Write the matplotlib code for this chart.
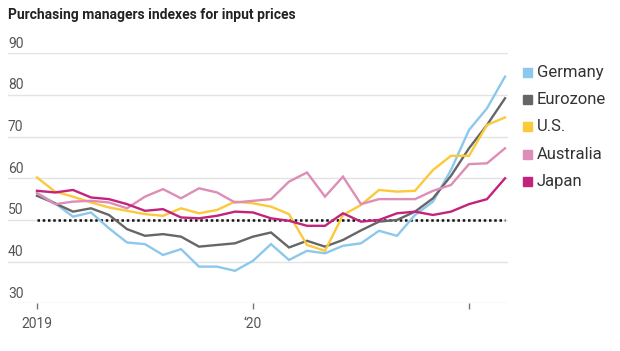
import matplotlib
matplotlib.use('Agg')
import matplotlib.pyplot as plt
from matplotlib.patches import Rectangle

plt.rcParams['font.family'] = ['Roboto', 'DejaVu Sans']

# Monthly index values, Jan 2019 - Mar 2021
months = list(range(27))
tick_pos = [0, 12, 24]
tick_labels = ['2019', '\u201820', '']

germany = [56.5, 54, 50.8, 51.8, 48, 44.6, 44.2, 41.6, 43, 38.8, 38.8, 37.8, 40.2, 44.2,
           40.4, 42.6, 42, 43.8, 44.4, 47.4, 46.2, 51.2, 54.4, 62, 71.6, 76.8, 84.4]
eurozone = [55.8, 54, 52, 52.8, 51.2, 47.8, 46.2, 46.6, 46, 43.6, 44, 44.4, 46, 47,
            43.4, 45, 43.6, 45.2, 47.5, 49.6, 50, 52, 55.2, 60.6, 67.2, 72.8, 79.2]
us = [60.2, 56.8, 55.6, 54.2, 53, 52.2, 51.4, 51, 52.8, 51.6, 52.4, 54.4, 54, 53.2,
      51.4, 44, 42.6, 51.2, 53.6, 57.2, 56.8, 57, 62, 65.4, 65.4, 72.8, 74.6]
australia = [56.4, 53.8, 54.4, 54.6, 54.2, 52.8, 55.6, 57.4, 55.2, 57.6, 56.6, 54.2, 54.6, 55,
             59.2, 61.4, 55.6, 60.4, 53.8, 55, 55, 55, 57, 58.4, 63.4, 63.6, 67.2]
japan = [57, 56.6, 57.2, 55.4, 55, 53.8, 52.2, 52.6, 50.6, 50.4, 51, 52, 51.8, 50.4,
         49.8, 48.6, 48.6, 51.6, 49.6, 50, 51.6, 52, 51.2, 52, 53.8, 55, 60]

names = ['Germany', 'Eurozone', 'U.S.', 'Australia', 'Japan']
series = [germany, eurozone, us, australia, japan]
colors = ['#8cc8ec', '#666666', '#fcc93a', '#de8db6', '#c2237c']
yticks = [30, 40, 50, 60, 70, 80, 90]

fig = plt.figure(figsize=(6.2, 3.51), dpi=100)
ax = fig.add_axes([8 / 620, 1 - 303.3 / 351, 500 / 620, (303.3 - 53.3) / 351])
ax.set_xlim(-29 / 18, 471 / 18)
ax.set_ylim(30, 90)

for y in yticks:
    ax.axhline(y, color='#e3e3e6', lw=1, zorder=0)
    ax.text(0.0, y + 0.6, str(y), transform=ax.get_yaxis_transform(),
            ha='left', va='bottom', fontsize=10, color='#555555')

ax.plot([0, 26], [50, 50], color='#111111', lw=1.8, ls=(0, (1, 1.1)), zorder=1)

for vals, c in zip(series, colors):
    ax.plot(months, vals, color=c, lw=1.7, zorder=2, solid_joinstyle='miter')

for s in ax.spines.values():
    s.set_visible(False)
ax.set_yticks([])
ax.set_xticks(tick_pos)
ax.set_xticklabels(tick_labels, fontsize=10, color='#555555')
ax.tick_params(axis='x', length=4, width=1, color='#777777', pad=6)

# legend
for i, (n, c) in enumerate(zip(names, colors)):
    yy = 1 - (72.3 + 27.3 * i) / 351
    fig.patches.append(Rectangle((523 / 620, yy - 4.5 / 351), 9 / 620, 9 / 351,
                                 transform=fig.transFigure, color=c, figure=fig))
    fig.text(537 / 620, yy, n, ha='left', va='center', fontsize=12, color='#333333')

fig.text(8 / 620, 1 - 15 / 351, 'Purchasing managers indexes for input prices',
         ha='left', va='center', fontsize=10, fontweight='bold', color='#222222')

fig.savefig('out.png', dpi=100)
